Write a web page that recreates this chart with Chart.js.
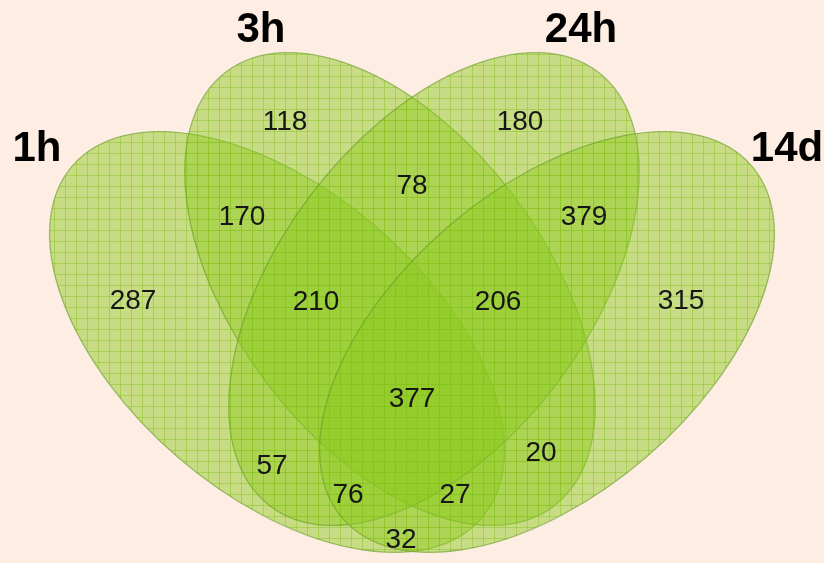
<!DOCTYPE html>
<html>
<head>
<meta charset="utf-8">
<script src="https://cdn.jsdelivr.net/npm/chart.js@4.4.0/dist/chart.umd.min.js"></script>
<style>
  html, body { margin: 0; padding: 0; background: #fdede2; }
  #wrap { width: 824px; height: 563px; position: relative; }
</style>
</head>
<body>
<div id="wrap"><canvas id="venn" width="824" height="563"></canvas></div>
<script>
// set names and region counts
const setNames = ['1h', '3h', '24h', '14d'];
const regionSets = ['1h', '3h', '24h', '14d', '1h&3h', '3h&24h', '24h&14d', '1h&3h&24h', '3h&24h&14d',
                    'all', '1h&24h', '1h&24h&14d', '1h&3h&14d', '3h&14d', '1h&14d'];
const regionCounts = [287, 118, 180, 315, 170, 78, 379, 210, 206, 377, 57, 76, 27, 20, 32];

// layout (pixel units on the hidden axes)
const ellipses = [
    { cx: 277, cy: 342, rx: 270, ry: 152, rot: 40.7 },
    { cx: 390, cy: 289, rx: 272, ry: 155, rot: 53 },
    { cx: 434, cy: 289, rx: 272, ry: 155, rot: -53 },
    { cx: 547, cy: 342, rx: 270, ry: 152, rot: -40.7 }
];
const setLabelPos = [[37, 149], [261, 30], [581, 30], [787, 149]];
const regionPos = [[133, 301], [285, 122], [520, 122], [681, 301], [242, 217], [412, 186], [584, 217],
                   [316, 302], [498, 302], [412, 399], [272, 466], [348, 495], [455, 495], [541, 453], [401, 540]];

function makePattern(ctx) {
    const c = document.createElement('canvas');
    c.width = 11; c.height = 11;
    const p = c.getContext('2d');
    p.fillStyle = 'rgba(140, 202, 30, 0.47)';
    p.fillRect(0, 0, 11, 11);
    p.fillStyle = 'rgba(134, 194, 30, 0.485)';
    p.fillRect(10, 0, 1, 11);
    p.fillRect(0, 10, 11, 1);
    return ctx.createPattern(c, 'repeat');
}

const vennPlugin = {
    id: 'venn',
    beforeDatasetsDraw(chart) {
        const ctx = chart.ctx;
        const xs = chart.scales.x, ys = chart.scales.y;
        const pat = makePattern(ctx);
        ellipses.forEach(e => {
            const x = xs.getPixelForValue(e.cx), y = ys.getPixelForValue(e.cy);
            const rx = Math.abs(xs.getPixelForValue(e.cx + e.rx) - x);
            const ry = Math.abs(ys.getPixelForValue(e.cy + e.ry) - y);
            ctx.save();
            ctx.beginPath();
            ctx.ellipse(x, y, rx, ry, e.rot * Math.PI / 180, 0, Math.PI * 2);
            ctx.fillStyle = pat;
            ctx.fill();
            ctx.lineWidth = 1.3;
            ctx.strokeStyle = 'rgba(100, 155, 35, 0.6)';
            ctx.stroke();
            ctx.restore();
        });
    },
    afterDatasetsDraw(chart) {
        const ctx = chart.ctx;
        ctx.save();
        ctx.textAlign = 'center';
        ctx.textBaseline = 'middle';
        ctx.fillStyle = '#161616';
        ctx.font = '28px "Liberation Sans", Arial, sans-serif';
        chart.getDatasetMeta(0).data.forEach((pt, i) => {
            ctx.fillText(String(regionCounts[i]), pt.x, pt.y);
        });
        ctx.fillStyle = '#000';
        ctx.font = 'bold 42px "Liberation Sans", Arial, sans-serif';
        chart.getDatasetMeta(1).data.forEach((pt, i) => {
            ctx.fillText(setNames[i], pt.x, pt.y);
        });
        ctx.restore();
    }
};

new Chart(document.getElementById('venn'), {
    type: 'scatter',
    data: {
        datasets: [
            { label: 'regions', data: regionPos.map(p => ({ x: p[0], y: p[1] })), pointRadius: 0 },
            { label: 'sets', data: setLabelPos.map(p => ({ x: p[0], y: p[1] })), pointRadius: 0 }
        ]
    },
    options: {
        responsive: false,
        animation: false,
        layout: { padding: 0 },
        plugins: { legend: { display: false }, tooltip: { enabled: false } },
        scales: {
            x: { type: 'linear', min: 0, max: 824, display: false },
            y: { type: 'linear', min: 0, max: 563, reverse: true, display: false }
        }
    },
    plugins: [vennPlugin]
});
</script>
</body>
</html>
